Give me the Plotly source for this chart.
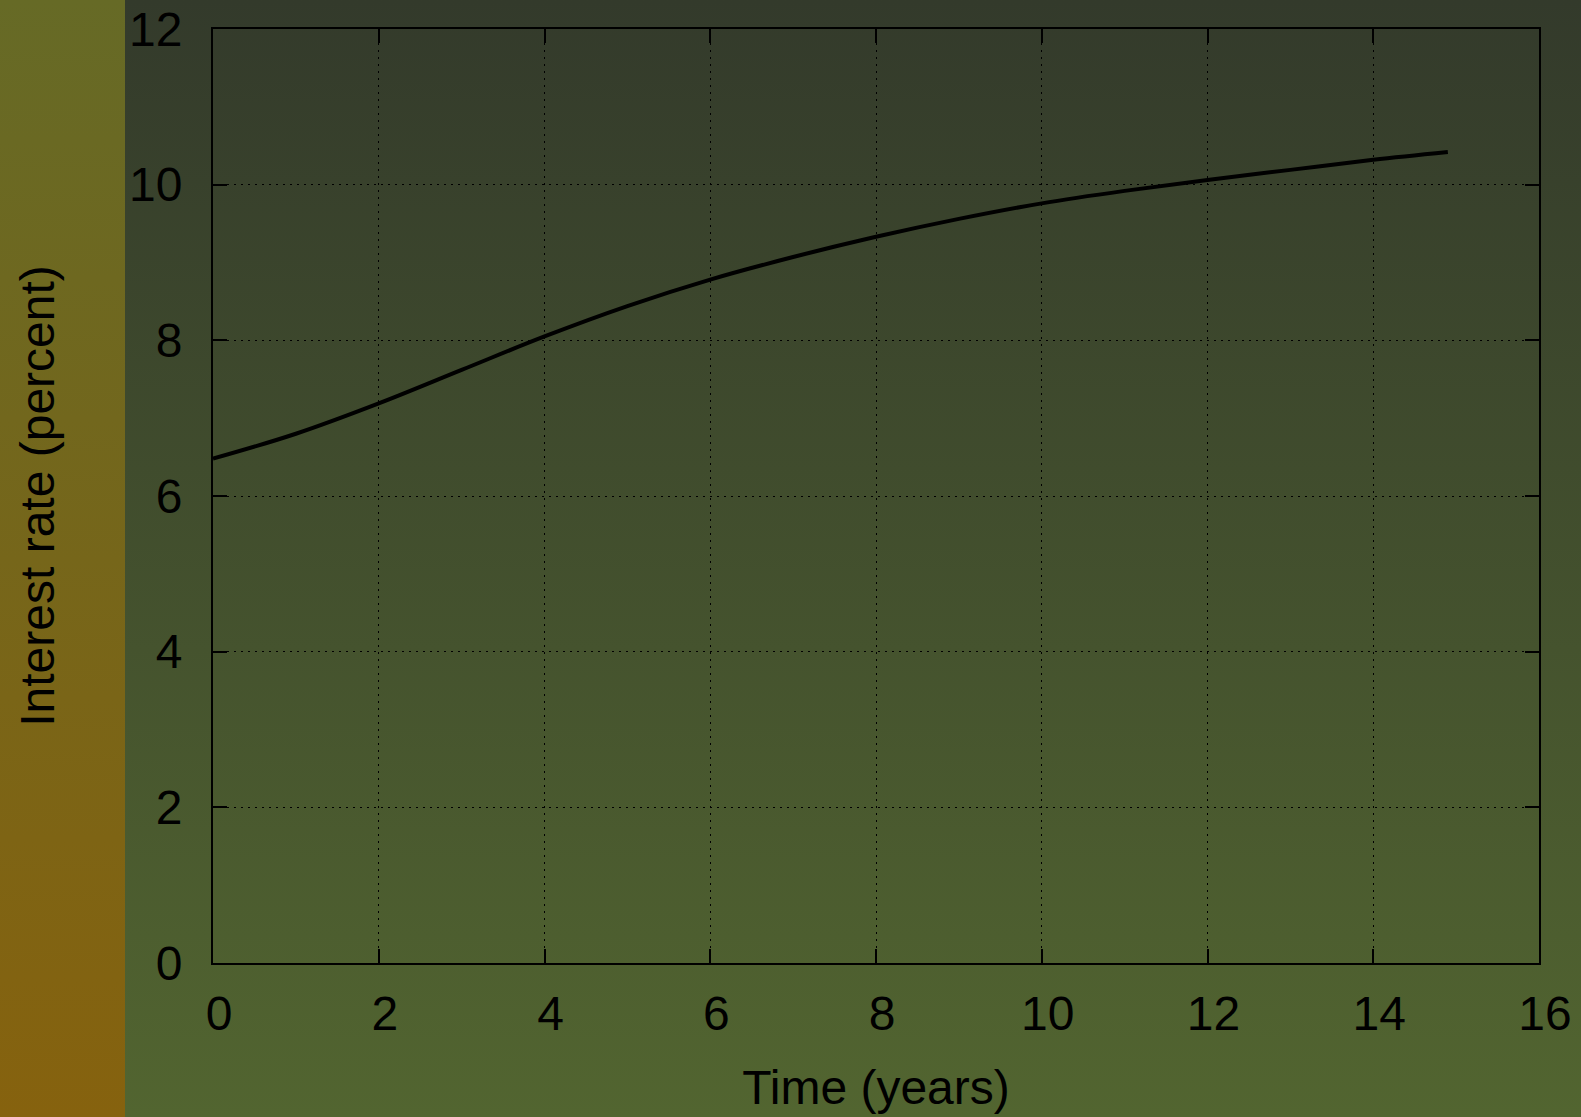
import base64
import plotly.graph_objects as go

# Short-rate path: expected interest rate over the horizon
time_years = [0, 1, 2, 3, 4, 5, 6, 7, 8, 9, 10, 11, 12, 13, 14, 14.9]
rate_percent = [6.48, 6.80, 7.19, 7.62, 8.05, 8.44, 8.78, 9.07, 9.33,
                9.56, 9.76, 9.92, 10.06, 10.19, 10.32, 10.42]

x_ticks = [0, 2, 4, 6, 8, 10, 12, 14, 16]
y_ticks = [0, 2, 4, 6, 8, 10, 12]

W, H = 1581, 1117
M_L, M_R, M_T, M_B = 213, 42, 29, 154
STRIP_W = 125

# Page backdrop: warm strip on the left, dark green gradient elsewhere
svg = f"""<svg xmlns='http://www.w3.org/2000/svg' width='{W}' height='{H}' viewBox='0 0 {W} {H}' preserveAspectRatio='none'>
<defs>
<linearGradient id='g1' x1='0' y1='0' x2='0' y2='1'>
<stop offset='0' stop-color='#666a26'/><stop offset='1' stop-color='#86620e'/></linearGradient>
<linearGradient id='g2' x1='0' y1='0' x2='0' y2='1'>
<stop offset='0' stop-color='#333a2b'/><stop offset='1' stop-color='#526530'/></linearGradient>
</defs>
<rect x='0' y='0' width='{STRIP_W}' height='{H}' fill='url(#g1)'/>
<rect x='{STRIP_W}' y='0' width='{W - STRIP_W}' height='{H}' fill='url(#g2)'/>
</svg>"""
bg_uri = "data:image/svg+xml;base64," + base64.b64encode(svg.encode()).decode()

pw = W - M_L - M_R
ph = H - M_T - M_B

fig = go.Figure()
fig.add_trace(go.Scatter(
    x=time_years, y=rate_percent, mode="lines",
    line=dict(color="black", width=4, shape="spline", smoothing=1.0),
    showlegend=False, hoverinfo="skip",
))

font_family = "Liberation Sans, Arial, sans-serif"
axis_common = dict(
    showline=True, linecolor="black", linewidth=2, mirror="ticks",
    ticks="inside", ticklen=14, tickwidth=2, tickcolor="black",
    showgrid=True, gridcolor="black", gridwidth=1, griddash="2px,5px",
    zeroline=False,
    tickfont=dict(family=font_family, size=48, color="black"),
    title_font=dict(family=font_family, size=48, color="black"),
)

fig.update_xaxes(
    range=[0, 16], tickvals=x_ticks, ticktext=[str(v) for v in x_ticks],
    title_text="Time (years)", ticklabelstandoff=7, ticklabelshift=6,
    title_standoff=32, **axis_common,
)
fig.update_yaxes(
    range=[0, 12], tickvals=y_ticks, ticktext=[str(v) for v in y_ticks],
    title_text="Interest rate (percent)", ticklabelstandoff=19,
    title_standoff=59, **axis_common,
)

fig.update_layout(
    width=W, height=H,
    margin=dict(l=M_L, r=M_R, t=M_T, b=M_B, autoexpand=False),
    paper_bgcolor="#333a2b", plot_bgcolor="rgba(0,0,0,0)",
    images=[dict(
        source=bg_uri, xref="paper", yref="paper",
        x=-M_L / pw, y=1 + M_T / ph, sizex=W / pw, sizey=H / ph,
        xanchor="left", yanchor="top", sizing="stretch", layer="below",
    )],
)

fig.write_html("out.html")
